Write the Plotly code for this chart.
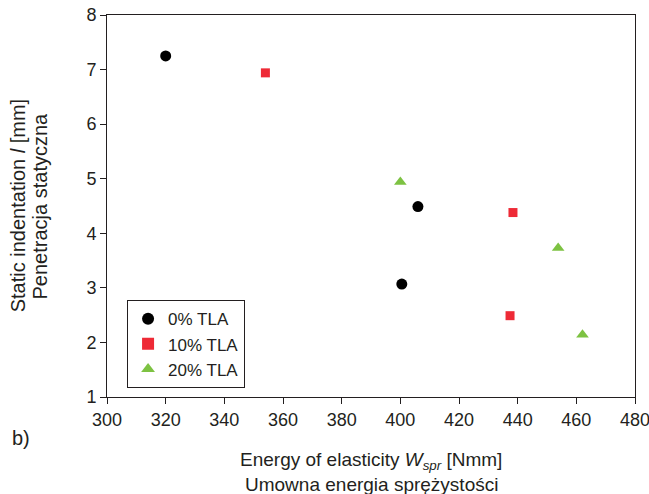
import plotly.graph_objects as go

# Energy of elasticity [Nmm] and static indentation [mm] per TLA content
tla0_energy = [320.0, 406.0, 400.5]
tla0_indent = [7.25, 4.49, 3.07]
tla10_energy = [354.0, 438.4, 437.4]
tla10_indent = [6.94, 4.38, 2.49]
tla20_energy = [400.0, 453.8, 462.1]
tla20_indent = [4.94, 3.73, 2.14]

x_ticks = [300, 320, 340, 360, 380, 400, 420, 440, 460, 480]
y_ticks = [1, 2, 3, 4, 5, 6, 7, 8]

FONT = "Liberation Sans, Arial, sans-serif"
INK = "#231f20"

fig = go.Figure()
fig.add_trace(go.Scatter(x=tla0_energy, y=tla0_indent, mode="markers", name="0% TLA",
                         marker=dict(symbol="circle", size=11, color="#000000")))
fig.add_trace(go.Scatter(x=tla10_energy, y=tla10_indent, mode="markers", name="10% TLA",
                         marker=dict(symbol="square", size=9, color="#ee2a36")))
fig.add_trace(go.Scatter(x=tla20_energy, y=tla20_indent, mode="markers", name="20% TLA",
                         marker=dict(symbol="triangle-up", size=11, color="#7dc242")))

axis_common = dict(showgrid=False, zeroline=False, showline=True, linecolor=INK, linewidth=1,
                   mirror=True, ticks="outside", ticklen=6, tickcolor=INK,
                   ticklabeloverflow="allow", automargin=False,
                   tickfont=dict(family=FONT, size=18, color=INK))

fig.update_xaxes(range=[300, 480], tickvals=x_ticks, **axis_common)
fig.update_yaxes(range=[1, 8], tickvals=y_ticks, **axis_common)

fig.update_layout(
    width=649, height=494,
    margin=dict(l=107, r=14, t=15, b=97),
    paper_bgcolor="white", plot_bgcolor="white",
    font=dict(family=FONT, color=INK),
    legend=dict(x=0.038, y=0.023, xanchor="left", yanchor="bottom",
                bordercolor=INK, borderwidth=1, bgcolor="white",
                font=dict(family=FONT, size=17, color=INK),
                itemwidth=30, itemsizing="constant", tracegroupgap=0),
    annotations=[
        dict(text="Energy of elasticity <i>W</i><sub><i>spr</i></sub> [Nmm]",
             xref="paper", yref="paper", x=0.5, y=-0.168, xanchor="center", yanchor="middle",
             showarrow=False, font=dict(family=FONT, size=19, color=INK)),
        dict(text="Umowna energia sprężystości",
             xref="paper", yref="paper", x=0.5, y=-0.228, xanchor="center", yanchor="middle",
             showarrow=False, font=dict(family=FONT, size=19, color=INK)),
        dict(text="Static indentation <i>l</i> [mm]",
             xref="paper", yref="paper", x=-0.168, y=0.5, xanchor="center", yanchor="middle",
             textangle=-90, showarrow=False, font=dict(family=FONT, size=20, color=INK)),
        dict(text="Penetracja statyczna",
             xref="paper", yref="paper", x=-0.126, y=0.5, xanchor="center", yanchor="middle",
             textangle=-90, showarrow=False, font=dict(family=FONT, size=20, color=INK)),
        dict(text="b)", xref="paper", yref="paper", x=-0.183, y=-0.108,
             xanchor="left", yanchor="middle", showarrow=False,
             font=dict(family=FONT, size=20, color=INK)),
    ],
)

fig.write_html("out.html")
